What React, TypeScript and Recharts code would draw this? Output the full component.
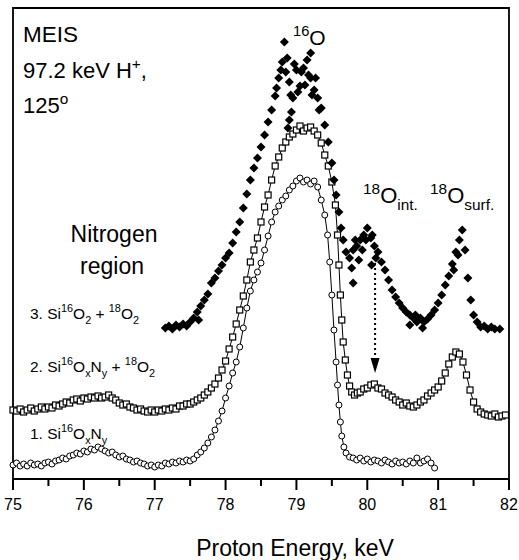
import {
  ScatterChart,
  Scatter,
  XAxis,
  YAxis,
  ReferenceArea,
  ReferenceLine,
  ReferenceDot,
} from "recharts";

// 1. Si16OxNy (open circles)
const energy1 = [
  75.0, 75.05, 75.1, 75.15, 75.2, 75.25, 75.3, 75.35, 75.4, 75.45,
  75.5, 75.55, 75.6, 75.65, 75.7, 75.75, 75.8, 75.85, 75.9, 75.95,
  76.0, 76.05, 76.1, 76.15, 76.2, 76.25, 76.3, 76.35, 76.4, 76.45,
  76.5, 76.55, 76.6, 76.65, 76.7, 76.75, 76.8, 76.85, 76.9, 76.95,
  77.0, 77.05, 77.1, 77.15, 77.2, 77.25, 77.3, 77.35, 77.4, 77.45,
  77.5, 77.55, 77.6, 77.65, 77.7, 77.75, 77.8, 77.85, 77.9, 77.95,
  78.0, 78.05, 78.1, 78.15, 78.2, 78.25, 78.3, 78.35, 78.4, 78.45,
  78.5, 78.55, 78.6, 78.65, 78.7, 78.75, 78.8, 78.85, 78.9, 78.95,
  79.0, 79.05, 79.1, 79.15, 79.2, 79.25, 79.3, 79.35, 79.4, 79.44,
  79.47, 79.5, 79.53, 79.56, 79.58, 79.6, 79.62, 79.64, 79.67, 79.7,
  79.75, 79.8, 79.85, 79.9, 79.95, 80.0, 80.05, 80.1, 80.15, 80.2,
  80.25, 80.3, 80.35, 80.4, 80.45, 80.5, 80.55, 80.6, 80.65, 80.7,
  80.75, 80.8, 80.85, 80.9, 80.95,
];
const counts1 = [
  14, 16, 13, 15, 13, 16, 14, 15, 13, 16,
  17, 15, 18, 19, 21, 20, 23, 24, 26, 25,
  28, 27, 30, 29, 32, 30, 28, 26, 27, 24,
  22, 23, 20, 19, 17, 18, 16, 15, 13, 14,
  12, 14, 13, 16, 15, 17, 16, 18, 17, 19,
  18, 20, 24, 27, 31, 36, 42, 49, 58, 68,
  81, 93, 106, 117, 132, 151, 171, 188, 199, 207,
  216, 229, 243, 257, 267, 273, 279, 283, 289, 293,
  298, 301, 297, 299, 295, 298, 292, 279, 264, 244,
  217, 184, 149, 117, 94, 74, 57, 43, 32, 26,
  22, 21, 19, 21, 18, 20, 17, 19, 18, 16,
  19, 17, 15, 18, 16, 17, 15, 18, 16, 21,
  16, 18, 20, 16, 11,
];

// 2. Si16OxNy + 18O2 (open squares)
const energy2 = [
  75.0, 75.05, 75.1, 75.15, 75.2, 75.25, 75.3, 75.35, 75.4, 75.45,
  75.5, 75.55, 75.6, 75.65, 75.7, 75.75, 75.8, 75.85, 75.9, 75.95,
  76.0, 76.05, 76.1, 76.15, 76.2, 76.25, 76.3, 76.35, 76.4, 76.45,
  76.5, 76.55, 76.6, 76.65, 76.7, 76.75, 76.8, 76.85, 76.9, 76.95,
  77.0, 77.05, 77.1, 77.15, 77.2, 77.25, 77.3, 77.35, 77.4, 77.45,
  77.5, 77.55, 77.6, 77.65, 77.7, 77.75, 77.8, 77.85, 77.9, 77.95,
  78.0, 78.05, 78.1, 78.15, 78.2, 78.25, 78.3, 78.35, 78.4, 78.45,
  78.5, 78.55, 78.6, 78.65, 78.7, 78.75, 78.8, 78.85, 78.9, 78.95,
  79.0, 79.05, 79.1, 79.15, 79.2, 79.25, 79.3, 79.35, 79.4, 79.45,
  79.5, 79.55, 79.58, 79.6, 79.62, 79.64, 79.66, 79.69, 79.72, 79.75,
  79.78, 79.82, 79.86, 79.9, 79.95, 80.0, 80.05, 80.1, 80.15, 80.2,
  80.25, 80.3, 80.35, 80.4, 80.45, 80.5, 80.55, 80.6, 80.65, 80.7,
  80.75, 80.8, 80.85, 80.9, 80.95, 81.0, 81.05, 81.1, 81.15, 81.2,
  81.25, 81.3, 81.35, 81.4, 81.45, 81.5, 81.55, 81.6, 81.65, 81.7,
  81.75, 81.8, 81.85, 81.9, 81.95,
];
const counts2 = [
  69, 68, 70, 67, 69, 71, 68, 70, 72, 70,
  72, 71, 74, 73, 75, 77, 76, 79, 80, 78,
  81, 80, 82, 81, 83, 81, 82, 84, 81, 79,
  76, 74, 75, 72, 71, 69, 70, 68, 67, 69,
  67, 69, 68, 70, 69, 71, 70, 73, 73, 75,
  75, 77, 79, 81, 84, 87, 91, 95, 101, 109,
  118, 130, 142, 155, 169, 183, 199, 217, 229, 241,
  257, 272, 284, 299, 313, 322, 331, 337, 342, 345,
  349, 353, 348, 351, 352, 348, 344, 336, 324, 313,
  297, 274, 244, 214, 184, 159, 137, 119, 104, 93,
  87, 84, 86, 87, 90, 91, 94, 95, 91, 90,
  86, 84, 82, 79, 77, 74, 76, 73, 72, 74,
  77, 79, 83, 86, 89, 92, 98, 106, 115, 122,
  127, 125, 117, 104, 89, 77, 70, 67, 65, 64,
  63, 65, 62, 63, 64,
];

// 3. Si16O2 + 18O2 (filled diamonds), scatter only
const energy3 = [
  77.15, 77.2, 77.25, 77.3, 77.35, 77.4, 77.45, 77.5, 77.55, 77.6,
  77.65, 77.7, 77.75, 77.8, 77.85, 77.9, 77.95, 78.0, 78.05, 78.1,
  78.15, 78.2, 78.25, 78.3, 78.35, 78.4, 78.45, 78.5, 78.55, 78.6,
  78.65, 78.7, 78.75, 78.8, 78.83, 78.85, 78.9, 78.93, 78.95, 79.0,
  79.05, 79.1, 79.15, 79.2, 79.25, 79.3, 79.35, 79.4, 79.45, 79.5,
  79.53, 79.56, 79.6, 79.63, 79.66, 79.7, 79.75, 79.8, 79.85, 79.9,
  79.95, 80.0, 80.05, 80.1, 80.15, 80.2, 80.25, 80.3, 80.35, 80.4,
  80.45, 80.5, 80.55, 80.6, 80.65, 80.7, 80.75, 80.8, 80.85, 80.9,
  80.95, 81.0, 81.05, 81.1, 81.15, 81.2, 81.25, 81.3, 81.34, 81.38,
  81.42, 81.46, 81.5, 81.55, 81.6, 81.65, 81.7, 81.75, 81.8, 81.87,
  // scattered repeats around the peaks
  78.72, 78.78, 78.87, 78.92, 78.97, 79.02, 79.07, 79.12, 79.17, 79.22,
  79.27, 79.32, 79.2, 78.88, 78.9, 79.78, 79.83, 79.88, 79.93, 79.98,
  80.06, 80.07, 80.12, 79.8, 80.6, 80.68, 80.78, 81.28, 81.22, 77.62,
];
const counts3 = [
  151, 153, 150, 154, 152, 155, 153, 157, 161, 167,
  173, 179, 185, 196, 201, 208, 214, 221, 226, 236,
  247, 257, 271, 285, 299, 311, 321, 332, 344, 357,
  369, 383, 401, 417, 437, 407, 397, 367, 381, 409,
  393, 411, 419, 401, 389, 381, 371, 354, 337, 316,
  299, 284, 267, 251, 239, 227, 221, 229, 233, 239,
  244, 251, 241, 233, 227, 217, 209, 199, 189, 182,
  176, 171, 167, 164, 161, 157, 161, 157, 160, 164,
  169, 176, 184, 194, 203, 215, 227, 239, 249, 229,
  201, 179, 164, 157, 152, 153, 150, 152, 150, 150,
  391, 409, 421, 384, 415, 387, 407, 394, 404, 384,
  401, 369, 426, 351, 359, 211, 239, 219, 229, 239,
  214, 244, 221, 196, 154, 164, 151, 224, 209, 159,
];

const majorTicks = [75, 76, 77, 78, 79, 80, 81, 82];
const minorTicks = [75.5, 76.5, 77.5, 78.5, 79.5, 80.5, 81.5];

const toPoints = (xs: number[], ys: number[]) =>
  xs.map((x, i) => ({ energy: x, counts: ys[i] }));

const series1 = toPoints(energy1, counts1);
const series2 = toPoints(energy2, counts2);
const series3 = toPoints(energy3, counts3);

const FONT = "'Liberation Sans', Arial, Helvetica, sans-serif";

const OpenCircle = (p: any) => (
  <circle cx={p.cx} cy={p.cy} r={3} fill="#fff" stroke="#000" strokeWidth={1} />
);
const OpenSquare = (p: any) => (
  <rect
    x={p.cx - 3}
    y={p.cy - 3}
    width={6}
    height={6}
    fill="#fff"
    stroke="#000"
    strokeWidth={1.2}
  />
);
const FilledDiamond = (p: any) => (
  <polygon
    points={`${p.cx},${p.cy - 4.5} ${p.cx + 4.5},${p.cy} ${p.cx},${p.cy + 4.5} ${p.cx - 4.5},${p.cy}`}
    fill="#000"
  />
);
const ArrowHead = (p: any) => (
  <polygon
    points={`${p.cx - 4.5},${p.cy - 8} ${p.cx + 4.5},${p.cy - 8} ${p.cx},${p.cy + 7}`}
    fill="#000"
  />
);

const EnergyLabel = ({ x, y, payload }: any) => (
  <text
    x={x}
    y={y + 14}
    textAnchor="middle"
    fontSize={16}
    fontFamily={FONT}
    fill="#000"
  >
    {payload.value}
  </text>
);

const AxisTitle = ({ viewBox }: any) => (
  <text
    x={viewBox.x + viewBox.width / 2 + 34}
    y={viewBox.y + 77}
    textAnchor="middle"
    fontSize={23}
    fontFamily={FONT}
    fill="#000"
  >
    Proton Energy, keV
  </text>
);

type Part = { t: string; k?: "sup" | "sub" };

// text with super/subscripts
function Chem({
  x,
  y,
  size,
  parts,
  anchor = "start",
}: {
  x: number;
  y: number;
  size: number;
  parts: Part[];
  anchor?: string;
}) {
  let prev = 0;
  return (
    <text x={x} y={y} fontSize={size} fontFamily={FONT} fill="#000" textAnchor={anchor}>
      {parts.map((p, i) => {
        const shift = p.k === "sup" ? -size * 0.42 : p.k === "sub" ? size * 0.3 : 0;
        const dy = shift - prev;
        prev = shift;
        return (
          <tspan key={i} dy={dy} fontSize={p.k ? size * 0.7 : size}>
            {p.t}
          </tspan>
        );
      })}
    </text>
  );
}

export default function App() {
  return (
    <div style={{ position: "absolute", left: 0, top: 0, width: 519, height: 560, background: "#fff" }}>
      <ScatterChart
        width={519}
        height={560}
        margin={{ top: 8, right: 10, bottom: 21, left: 13 }}
      >
        <XAxis
          type="number"
          dataKey="energy"
          domain={[75, 82]}
          ticks={majorTicks}
          interval={0}
          height={60}
          tickSize={11}
          tickMargin={6}
          tickLine={{ stroke: "#000", strokeWidth: 2 }}
          axisLine={{ stroke: "#000", strokeWidth: 1.8 }}
          tick={EnergyLabel}
          label={<AxisTitle />}
        />
        <YAxis type="number" dataKey="counts" domain={[0, 471]} hide />
        <ReferenceArea
          x1={75}
          x2={82}
          y1={0}
          y2={471}
          fill="none"
          fillOpacity={0}
          stroke="#000"
          strokeWidth={1.8}
          ifOverflow="visible"
        />
        {minorTicks.map((t) => (
          <ReferenceLine
            key={t}
            segment={[
              { x: t, y: 0 },
              { x: t, y: -7 },
            ]}
            stroke="#000"
            strokeWidth={2}
            ifOverflow="visible"
          />
        ))}
        <ReferenceLine
          segment={[
            { x: 80.11, y: 216 },
            { x: 80.11, y: 121 },
          ]}
          stroke="#000"
          strokeWidth={2}
          strokeDasharray="2 3"
        />
        <ReferenceDot x={80.11} y={113} r={0} shape={<ArrowHead />} />
        <Scatter
          data={series1}
          shape={<OpenCircle />}
          line={{ stroke: "#000", strokeWidth: 1 }}
          isAnimationActive={false}
        />
        <Scatter
          data={series2}
          shape={<OpenSquare />}
          line={{ stroke: "#000", strokeWidth: 1 }}
          isAnimationActive={false}
        />
        <Scatter data={series3} shape={<FilledDiamond />} isAnimationActive={false} />
      </ScatterChart>
      <svg
        width={519}
        height={450}
        style={{ position: "absolute", left: 0, top: 0, pointerEvents: "none" }}
      >
        <Chem x={23} y={42} size={22.5} parts={[{ t: "MEIS" }]} />
        <Chem x={23} y={78} size={22} parts={[{ t: "97.2 keV H" }, { t: "+", k: "sup" }, { t: "," }]} />
        <Chem x={23} y={113} size={22} parts={[{ t: "125" }, { t: "o", k: "sup" }]} />
        <Chem x={293} y={45} size={21} parts={[{ t: "16", k: "sup" }, { t: "O" }]} />
        <Chem x={363} y={203} size={22} parts={[{ t: "18", k: "sup" }, { t: "O" }, { t: "int.", k: "sub" }]} />
        <Chem x={430} y={203} size={22} parts={[{ t: "18", k: "sup" }, { t: "O" }, { t: "surf.", k: "sub" }]} />
        <Chem x={114} y={242} size={23} anchor="middle" parts={[{ t: "Nitrogen" }]} />
        <Chem x={112} y={274} size={23} anchor="middle" parts={[{ t: "region" }]} />
        <Chem
          x={30}
          y={319}
          size={15.5}
          parts={[
            { t: "3. Si" },
            { t: "16", k: "sup" },
            { t: "O" },
            { t: "2", k: "sub" },
            { t: " + " },
            { t: "18", k: "sup" },
            { t: "O" },
            { t: "2", k: "sub" },
          ]}
        />
        <Chem
          x={30}
          y={372}
          size={15.5}
          parts={[
            { t: "2. Si" },
            { t: "16", k: "sup" },
            { t: "O" },
            { t: "x", k: "sub" },
            { t: "N" },
            { t: "y", k: "sub" },
            { t: " + " },
            { t: "18", k: "sup" },
            { t: "O" },
            { t: "2", k: "sub" },
          ]}
        />
        <Chem
          x={30}
          y={439}
          size={15.5}
          parts={[
            { t: "1. Si" },
            { t: "16", k: "sup" },
            { t: "O" },
            { t: "x", k: "sub" },
            { t: "N" },
            { t: "y", k: "sub" },
          ]}
        />
      </svg>
    </div>
  );
}
